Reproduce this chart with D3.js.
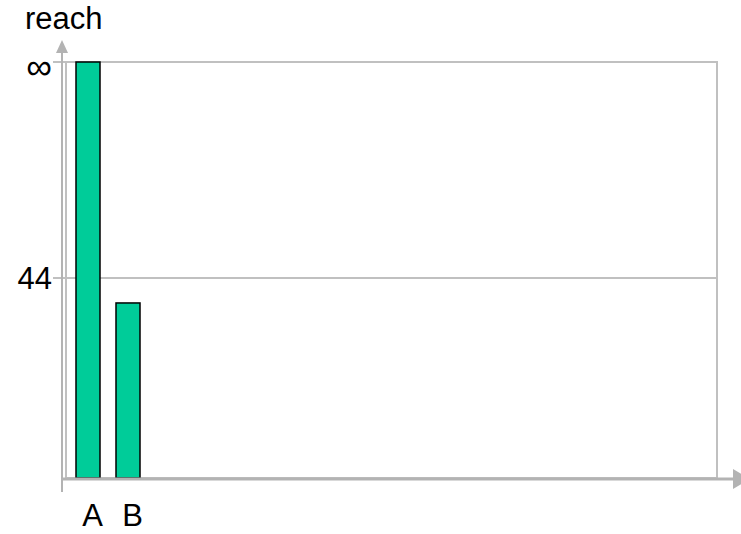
<!DOCTYPE html>
<html>
<head>
<meta charset="utf-8">
<script src="https://d3js.org/d3.v7.min.js"></script>
<style>
  body { margin: 0; background: #fff; }
  text { font-family: "Liberation Sans", Arial, sans-serif; fill: #000; }
</style>
</head>
<body>
<script>
// data
var categories = ["A", "B"];
var reach = [Infinity, 38.5];
var yTicks = [44, Infinity];
var yTickLabels = ["44", "\u221e"];
var yTitle = "reach";
var yInfinity = 91.5;   // where "infinite" sits on the axis

var width = 741, height = 534;
var plot = { left: 66, top: 62, right: 717, bottom: 478 };
var gray = "#c0c0c0", axisGray = "#b3b3b3";

var svg = d3.select("body").append("svg")
    .attr("width", width)
    .attr("height", height);

var x = d3.scaleBand().domain(categories)
    .range([plot.left, plot.left + 84])
    .paddingInner(0.4).paddingOuter(0.25);
var y = d3.scaleLinear().domain([0, yInfinity]).range([plot.bottom, plot.top]);
function yv(v) { return y(isFinite(v) ? v : yInfinity); }

// frame + grid
svg.append("rect")
    .attr("x", plot.left).attr("y", plot.top)
    .attr("width", plot.right - plot.left)
    .attr("height", plot.bottom - plot.top)
    .attr("fill", "none").attr("stroke", gray).attr("stroke-width", 2);

svg.selectAll(".grid").data(yTicks).enter().append("line")
    .attr("class", "grid")
    .attr("x1", 53).attr("x2", plot.right)
    .attr("y1", function(d){ return yv(d); })
    .attr("y2", function(d){ return yv(d); })
    .attr("stroke", gray).attr("stroke-width", 2);

// bars
svg.selectAll(".bar").data(reach).enter().append("rect")
    .attr("class", "bar")
    .attr("x", function(d, i){ return x(categories[i]); })
    .attr("y", function(d){ return yv(d); })
    .attr("width", x.bandwidth())
    .attr("height", function(d){ return plot.bottom - yv(d); })
    .attr("fill", "#00cc99")
    .attr("stroke", "#000").attr("stroke-width", 1.5);

// axes with arrows
svg.append("line")
    .attr("x1", 62).attr("x2", 62)
    .attr("y1", 492).attr("y2", 52)
    .attr("stroke", axisGray).attr("stroke-width", 2);
svg.append("path")
    .attr("d", "M56,53 L62,40 L68,53 Z")
    .attr("fill", axisGray);

svg.append("line")
    .attr("x1", 62).attr("x2", 736)
    .attr("y1", 479).attr("y2", 479)
    .attr("stroke", axisGray).attr("stroke-width", 3);
svg.append("path")
    .attr("d", "M733,469 L750,479 L733,489 Z")
    .attr("fill", axisGray);

// labels
svg.selectAll(".ylab").data(yTicks).enter().append("text")
    .attr("class", "ylab")
    .attr("x", 52)
    .attr("y", function(d){ return yv(d) + (isFinite(d) ? 0 : 4); })
    .attr("dy", "0.36em")
    .attr("text-anchor", "end")
    .style("font-size", function(d){ return isFinite(d) ? "31px" : "36px"; })
    .text(function(d, i){ return yTickLabels[i]; });

svg.selectAll(".xlab").data(categories).enter().append("text")
    .attr("class", "xlab")
    .attr("x", function(d){ return x(d) + x.bandwidth() / 2 + 4.5; })
    .attr("y", 526)
    .attr("text-anchor", "middle")
    .style("font-size", "31px")
    .text(function(d){ return d; });

svg.append("text")
    .attr("x", 25).attr("y", 29)
    .style("font-size", "31px")
    .text(yTitle);
</script>
</body>
</html>
